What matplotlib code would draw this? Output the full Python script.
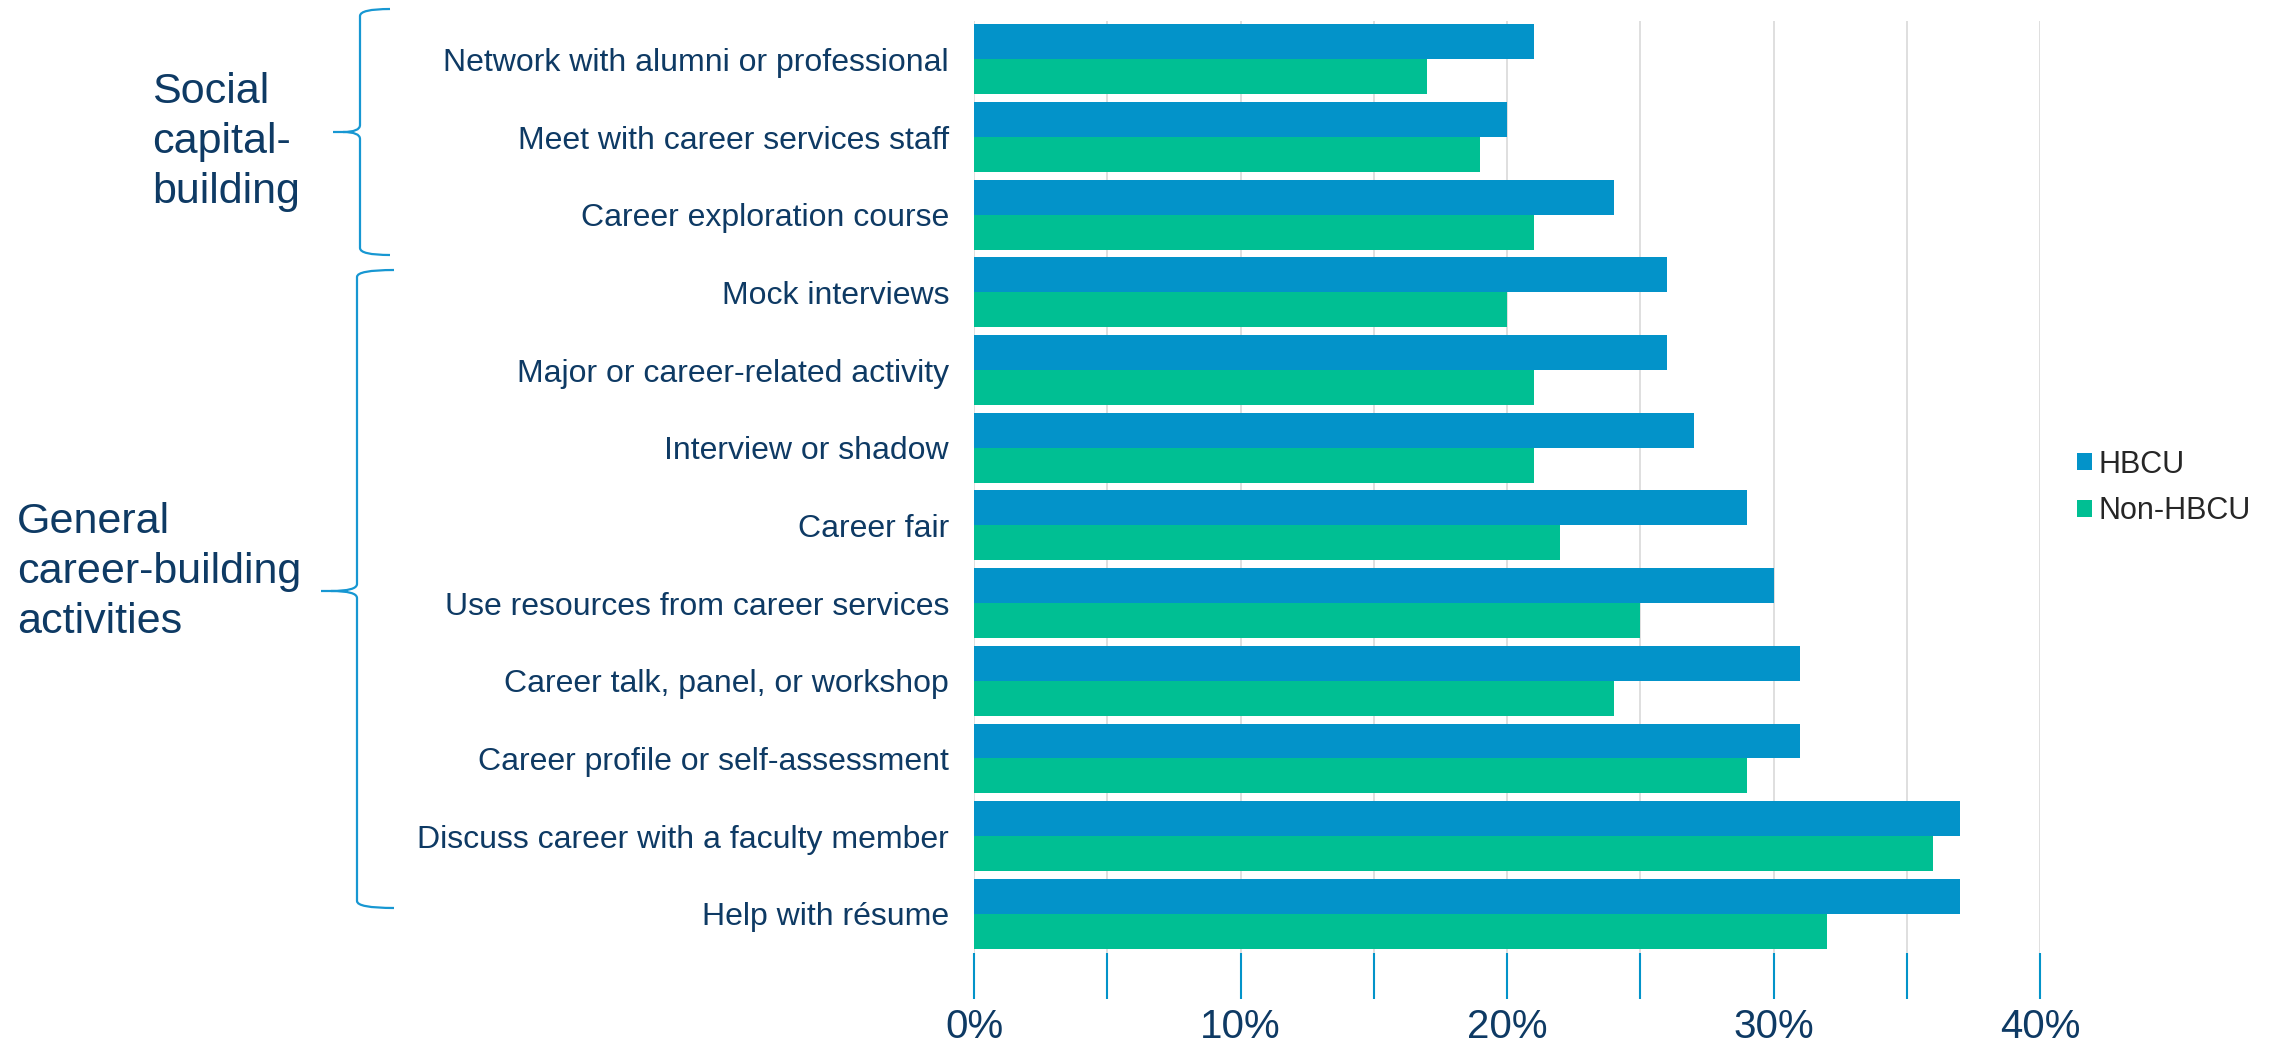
import numpy as np
import matplotlib
matplotlib.use("Agg")
import matplotlib.pyplot as plt
from matplotlib.path import Path
from matplotlib.patches import PathPatch

plt.rcParams['font.family'] = ['Liberation Sans', 'DejaVu Sans']

activities = [
    "Network with alumni or professional",
    "Meet with career services staff",
    "Career exploration course",
    "Mock interviews",
    "Major or career-related activity",
    "Interview or shadow",
    "Career fair",
    "Use resources from career services",
    "Career talk, panel, or workshop",
    "Career profile or self-assessment",
    "Discuss career with a faculty member",
    "Help with résume",
]
hbcu = [21, 20, 24, 26, 26, 27, 29, 30, 31, 31, 37, 37]
non_hbcu = [17, 19, 21, 20, 21, 21, 22, 25, 24, 29, 36, 32]
x_ticks = [0, 5, 10, 15, 20, 25, 30, 35, 40]
x_labels = ["0%", "", "10%", "", "20%", "", "30%", "", "40%"]

BLUE = "#0393C9"
GREEN = "#00BF93"
NAVY = "#0E3A64"
BRACE = "#1797D2"

W, H = 2290, 1054
fig = plt.figure(figsize=(W / 100, H / 100), dpi=100)
ax = fig.add_axes([974 / W, 1 - 952.7 / H, (2040 - 974) / W, (952.7 - 20.5) / H])

y = np.arange(len(activities))
bh = 0.45
b1 = ax.barh(y - bh / 2, hbcu, height=bh, color=BLUE, label="HBCU", zorder=3)
b2 = ax.barh(y + bh / 2, non_hbcu, height=bh, color=GREEN, label="Non-HBCU", zorder=3)

ax.set_ylim(len(activities) - 0.5, -0.5)
ax.set_xlim(0, 40)
ax.set_yticks(y)
ax.set_yticklabels(activities, fontsize=23, color=NAVY)
ax.tick_params(axis='y', length=0, pad=18)
ax.set_xticks(x_ticks)
ax.set_xticklabels(x_labels, fontsize=29, color=NAVY,
                   family=['Liberation Sans Narrow', 'Liberation Sans', 'DejaVu Sans'])
ax.tick_params(axis='x', direction='out', length=33, width=1.5, color=BLUE, pad=7)
ax.grid(axis='x', color="#D9D9D9", linewidth=1.2, zorder=0)
ax.set_axisbelow(True)
for s in ax.spines.values():
    s.set_visible(False)

ax.legend(handles=[b1, b2], loc='center left', bbox_to_anchor=(2077 / W, 1 - 488 / H),
          bbox_transform=fig.transFigure, frameon=False, fontsize=22,
          handlelength=0.5, handleheight=0.5, handletextpad=0.2,
          labelspacing=0.55, borderpad=0, borderaxespad=0, labelcolor="#262626")


def brace(x_end, x_line, x_tip, y_top, y_bot, y_mid, r=7):
    # curly brace in pixel coordinates (y measured from top)
    pts = [
        (x_end, y_top), (x_line, y_top), (x_line, y_top + r),
        (x_line, y_mid - r), (x_line, y_mid), (x_tip + 10, y_mid),
        (x_tip, y_mid),
        (x_tip + 10, y_mid), (x_line, y_mid), (x_line, y_mid + r),
        (x_line, y_bot - r), (x_line, y_bot), (x_end, y_bot),
    ]
    codes = [Path.MOVETO, Path.CURVE3, Path.CURVE3,
             Path.LINETO, Path.CURVE3, Path.CURVE3,
             Path.LINETO,
             Path.MOVETO, Path.CURVE3, Path.CURVE3,
             Path.LINETO, Path.CURVE3, Path.CURVE3]
    verts = [(px / W, 1 - py / H) for px, py in pts]
    fig.add_artist(PathPatch(Path(verts, codes), fill=False, edgecolor=BRACE,
                             linewidth=1.6, transform=fig.transFigure))


brace(390, 360, 333, 9, 255, 132)
brace(394, 357, 321, 270, 908, 591)

fig.text(152 / W, 1 - 142 / H, "Social\ncapital-\nbuilding", fontsize=31, color=NAVY,
         ha='left', va='center', linespacing=1.33)
fig.text(17 / W, 1 - 572 / H, "General\ncareer-building\nactivities", fontsize=31, color=NAVY,
         ha='left', va='center', linespacing=1.33)

fig.savefig("out.png", dpi=100)
